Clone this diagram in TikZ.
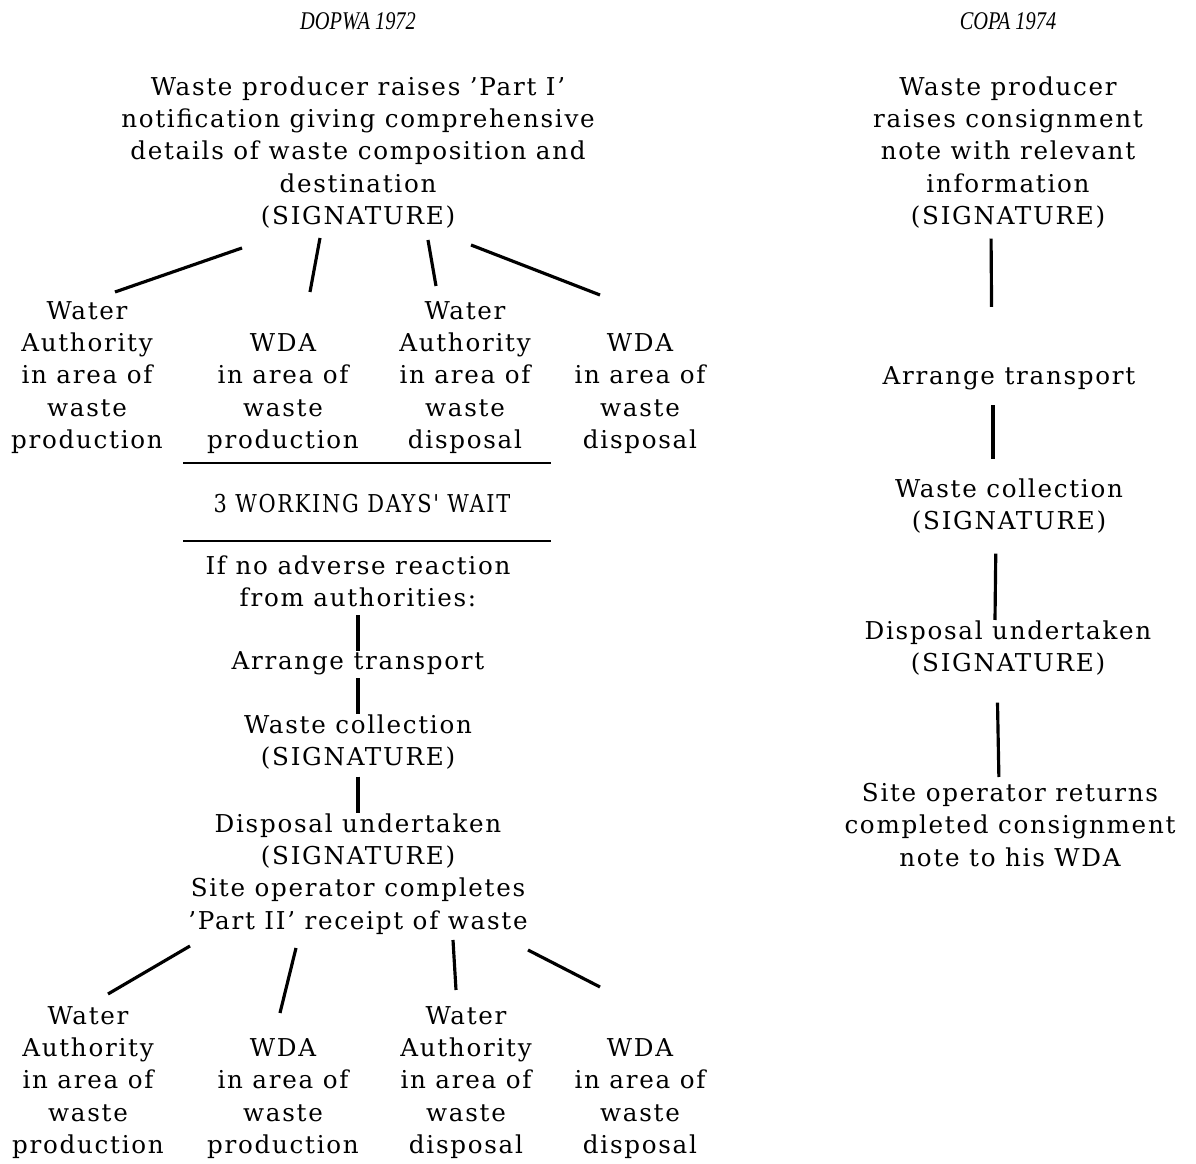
\documentclass[tikz,border=0pt]{standalone}
\usepackage{fontspec}
\setmainfont{DejaVu Serif}[LetterSpace=7]
\newfontfamily\headfont{Liberation Serif}[FakeStretch=0.8]
\newfontfamily\waitfont{DejaVu Serif}[LetterSpace=7,FakeStretch=0.85]

\begin{document}
\begin{tikzpicture}[x=0.2mm,y=-0.2mm,
        txt/.style={align=center,inner sep=0pt,font=\fontsize{14}{18.4}\selectfont},
        head/.style={inner sep=0pt,font=\headfont\itshape\fontsize{14.5}{17}\selectfont},
        link/.style={line width=1.8pt},
        rule/.style={line width=0.9pt}]
    \useasboundingbox (0,0) rectangle (1196,1164);
    % headings
    \node[head] (dopwa) at (358,21) {DOPWA 1972};
    \node[head] (copa) at (1008,21) {COPA 1974};
    % DOPWA column
    \node[txt,anchor=north] (prod) at (358,76) {Waste producer raises 'Part I'\\notification giving comprehensive\\details of waste composition and\\destination\\(SIGNATURE)};
    \node[txt,anchor=south] (upwa1) at (87,454) {Water\\Authority\\in area of\\waste\\production};
    \node[txt,anchor=south] (upwda1) at (283,454) {WDA\\in area of\\waste\\production};
    \node[txt,anchor=south] (upwa2) at (465,454) {Water\\Authority\\in area of\\waste\\disposal};
    \node[txt,anchor=south] (upwda2) at (640,454) {WDA\\in area of\\waste\\disposal};
    \foreach \n/\xa/\ya/\xb/\yb in {1/242/248/115/292, 2/320/238/310/292, 3/428/240/436/286, 4/471/245/600/295}{
            \coordinate (up\n a) at (\xa,\ya);
            \coordinate (up\n b) at (\xb,\yb);
            \draw[link] (up\n a) -- (up\n b);
        }
    \coordinate (r1w) at (183,463);
    \coordinate (r1e) at (551,463);
    \coordinate (r2w) at (183,541);
    \coordinate (r2e) at (551,541);
    \draw[rule] (r1w) -- (r1e);
    \draw[rule] (r2w) -- (r2e);
    \node[txt,font=\waitfont\fontsize{14}{18.4}\selectfont] (wait) at (362,504) {3 WORKING DAYS' WAIT};
    \node[txt,anchor=north] (ifno) at (358,555) {If no adverse reaction\\from authorities:};
    \node[txt] (arr) at (358,663) {Arrange transport};
    \node[txt,anchor=north] (coll) at (358,714) {Waste collection\\(SIGNATURE)};
    \node[txt,anchor=north] (disp) at (358,813) {Disposal undertaken\\(SIGNATURE)\\Site operator completes\\'Part II' receipt of waste};
    \draw[link,shorten <=1.6mm] (ifno.south) -- (arr.north);
    \draw[link,shorten <=0.6mm] (arr.south) -- (coll.north);
    \draw[link,shorten <=1.4mm] (coll.south) -- (disp.north);
    \foreach \n/\xa/\ya/\xb/\yb in {1/190/946/108/994, 2/296/948/280/1013, 3/453/940/456/990, 4/528/950/600/987}{
            \coordinate (lo\n a) at (\xa,\ya);
            \coordinate (lo\n b) at (\xb,\yb);
            \draw[link] (lo\n a) -- (lo\n b);
        }
    \node[txt,anchor=south] (lowa1) at (88,1159) {Water\\Authority\\in area of\\waste\\production};
    \node[txt,anchor=south] (lowda1) at (283,1159) {WDA\\in area of\\waste\\production};
    \node[txt,anchor=south] (lowa2) at (466,1159) {Water\\Authority\\in area of\\waste\\disposal};
    \node[txt,anchor=south] (lowda2) at (640,1159) {WDA\\in area of\\waste\\disposal};
    % COPA column
    \node[txt,anchor=north] (cprod) at (1008,76) {Waste producer\\raises consignment\\note with relevant\\information\\(SIGNATURE)};
    \node[txt] (carr) at (1009,378) {Arrange transport};
    \node[txt,anchor=north] (ccoll) at (1009,478) {Waste collection\\(SIGNATURE)};
    \node[txt,anchor=north] (cdisp) at (1008,620) {Disposal undertaken\\(SIGNATURE)};
    \node[txt,anchor=north] (cret) at (1010,783) {Site operator returns\\completed consignment\\note to his WDA};
    \draw[link,shorten <=2mm,shorten >=11.8mm] ([xshift=-3.4mm]cprod.south) -- ([xshift=-3.4mm]carr.north);
    \draw[link,shorten <=3mm,shorten >=3.8mm] ([xshift=-3.2mm]carr.south) -- ([xshift=-3.2mm]ccoll.north);
    \draw[link,shorten <=4mm] ([xshift=-2.6mm]ccoll.south) -- ([xshift=-2.6mm]cdisp.north);
    \draw[link,shorten <=5.4mm,shorten >=1.2mm] ([xshift=-2.2mm]cdisp.south) -- ([xshift=-2.2mm]cret.north);
\end{tikzpicture}
\end{document}
